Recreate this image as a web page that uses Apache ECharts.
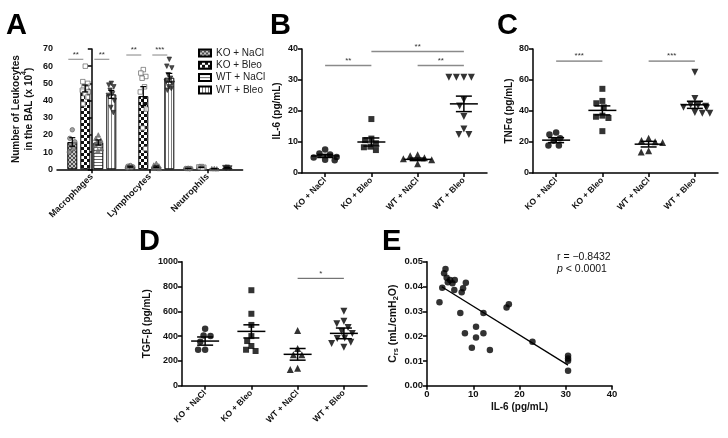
<!DOCTYPE html>
<html><head><meta charset="utf-8">
<script src="https://cdn.jsdelivr.net/npm/echarts@6/dist/echarts.min.js"></script>
<style>html,body{margin:0;padding:0;background:#fff}#c{width:728px;height:438px}</style>
</head><body><div id="c"></div>
<script>
// ================= DATA =================
const groups = ['KO + NaCl', 'KO + Bleo', 'WT + NaCl', 'WT + Bleo'];
const cellTypes = ['Macrophages', 'Lymphocytes', 'Neutrophils'];

// Panel A: bar means and SEM per cell type (Macrophages, Lymphocytes, Neutrophils)
const aMeanKONaCl = [15.9, 1.5, 0.5];
const aMeanKOBleo = [47.0, 42.6, 1.2];
const aMeanWTNaCl = [15.6, 1.5, 0.4];
const aMeanWTBleo = [43.6, 53.3, 0.9];
const aSemKONaCl = [2.5, 0.3, 0.1];
const aSemKOBleo = [2.0, 5.5, 0.2];
const aSemWTNaCl = [1.5, 0.4, 0.1];
const aSemWTBleo = [2.3, 2.5, 0.2];
// Panel A individual points
const aPtsKONaCl = [[23, 18, 16, 14, 12, 10], [2.2, 1.8, 1.5, 1.2, 1.0, 0.8], [0.6, 0.5, 0.5, 0.4, 0.3]];
const aPtsKOBleo = [[60, 51, 50, 48, 47, 46, 45, 44, 42, 38], [58, 56, 54, 53, 48, 45, 35, 24, 12], [1.6, 1.4, 1.2, 1.0, 0.8]];
const aPtsWTNaCl = [[20, 18, 17, 16, 15, 14, 12, 11], [3.5, 2.5, 2.0, 1.5, 1.0, 0.6, 0.5], [0.5, 0.4, 0.3]];
const aPtsWTBleo = [[50, 49, 48, 46, 44, 43, 40, 36, 33], [64, 60, 59, 55, 53, 51, 50, 48, 47, 46], [1.2, 1.0, 0.8, 0.6]];
// Panel A significance: [cellTypeIndex, y, groupA, groupB]
const aSig = [[0, 64, 0, 1], [0, 64, 2, 3], [1, 66.5, 0, 1], [1, 66.5, 2, 3]];
const aSigStars = ['**', '**', '**', '***'];

// Panel B: IL-6 (pg/mL)
const bKONaCl = [7.6, 6.3, 6.0, 5.2, 5.0, 4.3, 4.1];
const bKOBleo = [17.4, 11.1, 10.6, 9.6, 8.5, 8.3, 7.4];
const bWTNaCl = [5.9, 5.6, 4.9, 4.6, 4.3, 3.0];
const bWTBleo = [30.9, 30.9, 30.9, 30.9, 23.6, 21.6, 18.2, 14.2, 12.4, 12.4];
const bMean = [5.5, 10.0, 4.4, 22.3];
const bSem = [0.5, 1.3, 0.4, 2.5];
const bSig = [[0, 34.7, 1], [1, 39.2, 3], [2, 34.7, 3]];
const bSigStars = ['**', '**', '**'];

// Panel C: TNFα (pg/mL)
const cKONaCl = [26.2, 24.9, 22.5, 20.8, 17.8, 17.8];
const cKOBleo = [54.3, 46.5, 45.0, 42.4, 37.0, 36.3, 35.5, 27.0];
const cWTNaCl = [22.5, 21.0, 20.1, 19.6, 14.3, 13.6];
const cWTBleo = [65.0, 48.0, 44.0, 43.5, 43.0, 42.5, 42.0, 39.0, 38.5, 38.5];
const cMean = [21.2, 40.4, 18.6, 44.0];
const cSem = [1.6, 2.9, 1.8, 2.3];
const cSig = [[0, 72.2, 1], [2, 72.2, 3]];
const cSigStars = ['***', '***'];

// Panel D: TGF-β (pg/mL)
const dKONaCl = [460, 405, 400, 355, 290, 290];
const dKOBleo = [770, 580, 490, 400, 360, 320, 290, 280];
const dWTNaCl = [445, 300, 250, 250, 140, 130];
const dWTBleo = [600, 520, 500, 470, 440, 420, 385, 380, 350, 340, 310];
const dMean = [360, 438, 253, 422];
const dSem = [33, 53, 47, 43];
const dSig = [[2, 866, 3]];
const dSigStars = ['*'];

// Panel E: Crs vs IL-6
const eIL6 = [4.0, 3.7, 4.25, 5.0, 4.5, 5.5, 6.0, 8.4, 3.3, 5.9, 7.8, 7.5, 2.7, 7.2, 12.2, 10.6, 8.2, 12.2, 9.7, 10.6, 13.6, 17.2, 17.7, 22.8, 30.5, 30.5, 30.5, 30.5];
const eCrs = [0.0471, 0.0453, 0.0435, 0.0426, 0.0417, 0.0413, 0.0426, 0.0415, 0.0395, 0.0386, 0.0393, 0.0377, 0.0336, 0.0293, 0.0293, 0.0238, 0.0211, 0.0211, 0.0153, 0.0194, 0.0144, 0.0315, 0.0328, 0.0177, 0.0121, 0.0110, 0.0101, 0.0060];
const eFitX = [3.2, 30.5];
const eFitY = [0.0399, 0.0083];
const eStatR = 'r = \u22120.8432';
const eStatP = '< 0.0001';

// ================= STYLE =================
const FONT = '"Liberation Sans", Arial, sans-serif';
function makePattern(w, h, draw) {
  const c = document.createElement('canvas'); c.width = w; c.height = h;
  const ctx = c.getContext('2d'); draw(ctx); return c;
}
const patKONaCl = makePattern(4, 4, ctx => {
  ctx.fillStyle = '#c4c4c4'; ctx.fillRect(0, 0, 4, 4);
  ctx.fillStyle = '#505050';
  for (let i = 0; i < 4; i++) { ctx.fillRect(i, i, 1, 1); ctx.fillRect(3 - i, i, 1, 1); }
});
const patKOBleo = makePattern(6, 6, ctx => {
  ctx.fillStyle = '#fff'; ctx.fillRect(0, 0, 6, 6);
  ctx.fillStyle = '#111'; ctx.fillRect(0, 0, 3, 3); ctx.fillRect(3, 3, 3, 3);
});
const patWTNaCl = makePattern(3, 3, ctx => {
  ctx.fillStyle = '#fff'; ctx.fillRect(0, 0, 3, 3);
  ctx.fillStyle = '#6a6a6a'; ctx.fillRect(0, 0, 3, 1);
});
const patWTBleo = makePattern(3, 3, ctx => {
  ctx.fillStyle = '#fff'; ctx.fillRect(0, 0, 3, 3);
  ctx.fillStyle = '#808080'; ctx.fillRect(0, 0, 1, 3);
});
const patterns = [patKONaCl, patKOBleo, patWTNaCl, patWTBleo].map(c => ({ image: c, repeat: 'repeat' }));

const barOffsetPx = [-19.5, -6.5, 6.5, 19.5];
const jitPx = [0, -2.5, 2.5, -1.2, 1.2, -3, 3, -0.5, 2, -2, 0.5];
const aSym = [
  { symbol: 'circle', color: '#8c8c8c', border: '#555', rot: 0 },
  { symbol: 'rect', color: '#ffffff', border: '#555', rot: 0 },
  { symbol: 'triangle', color: '#666', border: '#666', rot: 0 },
  { symbol: 'triangle', color: '#222', border: '#222', rot: 180 }
];
const ptSym = [
  { symbol: 'circle', size: 6.5, rot: 0 },
  { symbol: 'rect', size: 6, rot: 0 },
  { symbol: 'triangle', size: 7, rot: 0 },
  { symbol: 'triangle', size: 7, rot: 180 }
];

const axisLineStyle = { show: true, lineStyle: { color: '#000', width: 1.5 } };
const axisTickStyle = { show: true, length: 4, lineStyle: { color: '#000', width: 1.5 } };
const tickLabel = { color: '#111', fontWeight: 'bold', fontSize: 9, fontFamily: FONT, margin: 4, formatter: v => String(v) };
const catLabel = { color: '#111', fontWeight: 'bold', fontSize: 8.5, fontFamily: FONT, rotate: 45, margin: 6, interval: 0 };
const nameStyle = { color: '#111', fontWeight: 'bold', fontSize: 10, fontFamily: FONT };

function yAx(gi, max, interval, name, gap, extra) {
  return Object.assign({
    type: 'value', gridIndex: gi, min: 0, max: max, interval: interval,
    axisLine: axisLineStyle, axisTick: axisTickStyle, axisLabel: tickLabel,
    splitLine: { show: false }, name: name, nameLocation: 'middle', nameGap: gap,
    nameTextStyle: nameStyle
  }, extra || {});
}
function catAx(gi) {
  return {
    type: 'category', gridIndex: gi, data: groups, boundaryGap: true,
    jitter: 30, jitterOverlap: false, jitterMargin: 0.5,
    axisLine: axisLineStyle, axisTick: Object.assign({}, axisTickStyle, { alignWithLabel: true }),
    axisLabel: catLabel, splitLine: { show: false }
  };
}

function meanSemRender(halfMean, halfCap) {
  return function (params, api) {
    const x = api.value(0), m = api.value(1), s = api.value(2);
    const pm = api.coord([x, m]), pt = api.coord([x, m + s]), pb = api.coord([x, m - s]);
    const st = { stroke: '#000', lineWidth: 1.5 };
    return { type: 'group', children: [
      { type: 'line', shape: { x1: pm[0] - halfMean, y1: pm[1], x2: pm[0] + halfMean, y2: pm[1] }, style: st },
      { type: 'line', shape: { x1: pt[0], y1: pt[1], x2: pb[0], y2: pb[1] }, style: st },
      { type: 'line', shape: { x1: pt[0] - halfCap, y1: pt[1], x2: pt[0] + halfCap, y2: pt[1] }, style: st },
      { type: 'line', shape: { x1: pb[0] - halfCap, y1: pb[1], x2: pb[0] + halfCap, y2: pb[1] }, style: st }
    ] };
  };
}
function sigRender(stars, color, lw) {
  return function (params, api) {
    const a = api.coord([api.value(0), api.value(1)]);
    const b = api.coord([api.value(2), api.value(1)]);
    return { type: 'group', children: [
      { type: 'line', shape: { x1: a[0], y1: a[1], x2: b[0], y2: b[1] }, style: { stroke: color, lineWidth: lw } },
      { type: 'text', x: (a[0] + b[0]) / 2, y: a[1] - 1, style: { text: stars[params.dataIndex], textAlign: 'center', textVerticalAlign: 'bottom', fontSize: 8, fill: '#333', fontFamily: FONT } }
    ] };
  };
}

const series = [];
// ---- Panel A bars ----
const aMeans = [aMeanKONaCl, aMeanKOBleo, aMeanWTNaCl, aMeanWTBleo];
const aSems = [aSemKONaCl, aSemKOBleo, aSemWTNaCl, aSemWTBleo];
const aPts = [aPtsKONaCl, aPtsKOBleo, aPtsWTNaCl, aPtsWTBleo];
groups.forEach((g, gi) => {
  series.push({
    type: 'bar', name: g, xAxisIndex: 0, yAxisIndex: 0,
    data: aMeans[gi].map((v, i) => [i, v]), barWidth: 10, barGap: '30%',
    itemStyle: { color: patterns[gi], borderColor: '#000', borderWidth: 1 }, z: 2
  });
});
groups.forEach((g, gi) => {
  const data = [];
  aPts[gi].forEach((arr, ci) => arr.forEach((v, k) => data.push({ value: [ci, v], symbolOffset: [barOffsetPx[gi] + jitPx[k % jitPx.length], 0] })));
  series.push({
    type: 'scatter', name: 'A pts ' + g, xAxisIndex: 0, yAxisIndex: 0, data: data,
    symbol: aSym[gi].symbol, symbolSize: 4.5, symbolRotate: aSym[gi].rot,
    itemStyle: { color: aSym[gi].color, borderColor: aSym[gi].border, borderWidth: 0.8 }, z: 4
  });
});
const aErrData = [];
groups.forEach((g, gi) => cellTypes.forEach((c, ci) => aErrData.push([ci, aMeans[gi][ci], aSems[gi][ci], gi])));
series.push({
  type: 'custom', name: 'A err', xAxisIndex: 0, yAxisIndex: 0, data: aErrData, z: 5,
  renderItem: function (params, api) {
    const x = api.value(0), m = api.value(1), s = api.value(2), g = api.value(3);
    const pt = api.coord([x, m + s]), pb = api.coord([x, m - s]);
    const cx = pt[0] + barOffsetPx[g];
    const st = { stroke: '#000', lineWidth: 1.2 };
    return { type: 'group', children: [
      { type: 'line', shape: { x1: cx, y1: pt[1], x2: cx, y2: pb[1] }, style: st },
      { type: 'line', shape: { x1: cx - 3, y1: pt[1], x2: cx + 3, y2: pt[1] }, style: st },
      { type: 'line', shape: { x1: cx - 3, y1: pb[1], x2: cx + 3, y2: pb[1] }, style: st }
    ] };
  }
});
series.push({
  type: 'custom', name: 'A sig', xAxisIndex: 0, yAxisIndex: 0, data: aSig, z: 5,
  renderItem: function (params, api) {
    const p = api.coord([api.value(0), api.value(1)]);
    const x1 = p[0] + barOffsetPx[api.value(2)] - 4, x2 = p[0] + barOffsetPx[api.value(3)] - 2;
    return { type: 'group', children: [
      { type: 'line', shape: { x1: x1, y1: p[1], x2: x2, y2: p[1] }, style: { stroke: '#999', lineWidth: 1.2 } },
      { type: 'text', x: (x1 + x2) / 2, y: p[1] - 1, style: { text: aSigStars[params.dataIndex], textAlign: 'center', textVerticalAlign: 'bottom', fontSize: 8, fill: '#333', fontFamily: FONT } }
    ] };
  }
});

// ---- Panels B, C, D ----
function dotPanel(axisIdx, lists, means, sems, sig, stars, sigColor, sigW, tag) {
  lists.forEach((arr, gi) => {
    series.push({
      type: 'scatter', name: tag + ' ' + groups[gi], xAxisIndex: axisIdx, yAxisIndex: axisIdx,
      data: arr.map(v => [gi, v]), symbol: ptSym[gi].symbol, symbolSize: ptSym[gi].size,
      symbolRotate: ptSym[gi].rot, itemStyle: { color: '#000' }, z: 3
    });
  });
  series.push({
    type: 'custom', name: tag + ' mean', xAxisIndex: axisIdx, yAxisIndex: axisIdx,
    data: means.map((m, i) => [i, m, sems[i]]), renderItem: meanSemRender(14, 8), z: 5
  });
  series.push({
    type: 'custom', name: tag + ' sig', xAxisIndex: axisIdx, yAxisIndex: axisIdx,
    data: sig, renderItem: sigRender(stars, sigColor, sigW), z: 5
  });
}
dotPanel(1, [bKONaCl, bKOBleo, bWTNaCl, bWTBleo], bMean, bSem, bSig, bSigStars, '#8a8a8a', 1.5, 'B');
dotPanel(2, [cKONaCl, cKOBleo, cWTNaCl, cWTBleo], cMean, cSem, cSig, cSigStars, '#555', 1, 'C');
dotPanel(3, [dKONaCl, dKOBleo, dWTNaCl, dWTBleo], dMean, dSem, dSig, dSigStars, '#555', 1, 'D');

// ---- Panel E ----
series.push({
  type: 'scatter', name: 'E pts', xAxisIndex: 4, yAxisIndex: 4,
  data: eIL6.map((x, i) => [x, eCrs[i]]), symbol: 'circle', symbolSize: 6.5,
  itemStyle: { color: '#000' }, z: 3
});
series.push({
  type: 'line', name: 'E fit', xAxisIndex: 4, yAxisIndex: 4,
  data: eFitX.map((x, i) => [x, eFitY[i]]), showSymbol: false, symbol: 'none',
  lineStyle: { color: '#000', width: 1.3 }, z: 4
});

const option = {
  animation: false,
  backgroundColor: '#fff',
  textStyle: { fontFamily: FONT },
  legend: {
    data: groups, orient: 'vertical', left: 193, top: 43, itemWidth: 12, itemHeight: 7, itemGap: 2.3,
    icon: 'rect', selectedMode: false,
    textStyle: { fontSize: 10, color: '#222', fontFamily: FONT, lineHeight: 10 }
  },
  grid: [
    { left: 57, top: 49, width: 185.6, height: 120.3 },
    { left: 302, top: 49, width: 185, height: 124 },
    { left: 533, top: 49, width: 185, height: 124 },
    { left: 182, top: 261.7, width: 185, height: 124 },
    { left: 427, top: 261.7, width: 185, height: 124 }
  ],
  xAxis: [
    {
      type: 'value', gridIndex: 0, min: -0.6, max: 2.6,
      axisLine: axisLineStyle,
      axisTick: Object.assign({}, axisTickStyle, { customValues: [0, 1, 2] }),
      axisLabel: Object.assign({}, catLabel, { fontSize: 9, customValues: [0, 1, 2], formatter: v => cellTypes[Math.round(v)] }),
      splitLine: { show: false }
    },
    catAx(1), catAx(2), catAx(3),
    {
      type: 'value', gridIndex: 4, min: 0, max: 40, interval: 10,
      axisLine: axisLineStyle, axisTick: axisTickStyle, axisLabel: Object.assign({}, tickLabel, { fontSize: 9.5 }),
      splitLine: { show: false }, name: 'IL-6 (pg/mL)', nameLocation: 'middle', nameGap: 17,
      nameTextStyle: nameStyle
    }
  ],
  yAxis: [
    yAx(0, 70, 10, '{t|Number of Leukocytes}\n{t|in the BAL (x 10}{s|4}{t|)}', 23, {
      nameTextStyle: Object.assign({}, nameStyle, { lineHeight: 13, rich: {
        t: { fontSize: 10, fontWeight: 'bold', fontFamily: FONT, color: '#111', verticalAlign: 'bottom', padding: [2, 0, 0, 0] },
        s: { fontSize: 7, fontWeight: 'bold', fontFamily: FONT, color: '#111', verticalAlign: 'top' } } })
    }),
    yAx(1, 40, 10, 'IL-6 (pg/mL)', 20),
    yAx(2, 80, 20, 'TNF\u03b1 (pg/mL)', 19),
    yAx(3, 1000, 200, 'TGF-\u03b2 (pg/mL)', 30),
    yAx(4, 0.05, 0.01, '{t|C}{s|rs}{t| (mL/cmH}{s|2}{t|O)}', 27, {
      axisLabel: Object.assign({}, tickLabel, { fontSize: 9.5, formatter: v => v.toFixed(2) }),
      nameTextStyle: Object.assign({}, nameStyle, { rich: {
        t: { fontSize: 10.5, fontWeight: 'bold', fontFamily: FONT, color: '#111', verticalAlign: 'bottom', padding: [0, 0, 1, 0] },
        s: { fontSize: 7.5, fontWeight: 'bold', fontFamily: FONT, color: '#111', verticalAlign: 'bottom' } } })
    })
  ],
  graphic: [
    { type: 'text', left: 6, top: 11, style: { text: 'A', font: 'bold 29px ' + FONT, fill: '#000' } },
    { type: 'text', left: 270, top: 11, style: { text: 'B', font: 'bold 29px ' + FONT, fill: '#000' } },
    { type: 'text', left: 497, top: 11, style: { text: 'C', font: 'bold 29px ' + FONT, fill: '#000' } },
    { type: 'text', left: 139, top: 227, style: { text: 'D', font: 'bold 29px ' + FONT, fill: '#000' } },
    { type: 'text', left: 382, top: 227, style: { text: 'E', font: 'bold 29px ' + FONT, fill: '#000' } },
    { type: 'text', left: 557, top: 252, style: {
      text: '{n|' + eStatR + '}\n{i|p}{n| ' + eStatP + '}',
      rich: { n: { fontSize: 10.5, fontFamily: FONT, fill: '#111', lineHeight: 12 }, i: { fontSize: 10.5, fontFamily: FONT, fontStyle: 'italic', fill: '#111', lineHeight: 12 } } } }
  ],
  series: series
};
const chart = echarts.init(document.getElementById('c'), null, { renderer: 'canvas' });
chart.setOption(option);
</script></body></html>
